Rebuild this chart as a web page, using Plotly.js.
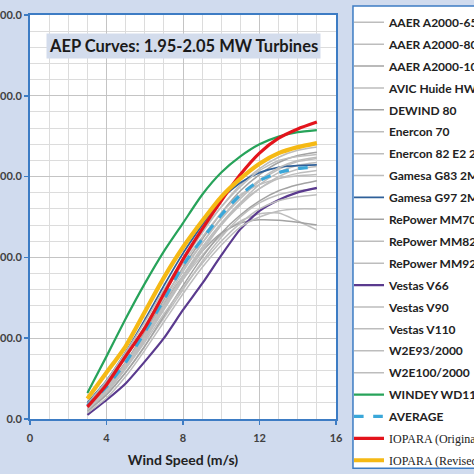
<!DOCTYPE html>
<html><head><meta charset="utf-8">
<script src="https://cdn.plot.ly/plotly-3.0.1.min.js"></script>
<style>html,body{margin:0;padding:0;background:#d0dbee;}#chart{width:474px;height:474px;}</style>
</head><body><div id="chart"></div>
<script>
const windSpeed = [3,4,5,6,7,8,9,10,11,12,13,14,15];
const turbineNames = ["AAER A2000-65","AAER A2000-80","AAER A2000-100","AVIC Huide HW","DEWIND 80","Enercon 70","Enercon 82 E2 2MW","Gamesa G83 2MW","Gamesa G97 2MW","RePower MM70","RePower MM82","RePower MM92","Vestas V66","Vestas V90","Vestas V110","W2E93/2000","W2E100/2000","WINDEY WD110","AVERAGE","IOPARA (Original)","IOPARA (Revised)"];
const aaer65   = [250,700,1300,2000,2750,3450,4050,4550,4900,5080,5100,4900,4680];
const aaer80   = [350,900,1550,2300,3100,3900,4600,5250,5800,6200,6480,6650,6730];
const aaer100  = [280,780,1400,2150,2950,3750,4450,5100,5650,6050,6350,6520,6600];
const avic     = [300,850,1500,2250,3000,3700,4350,4950,5450,5880,6180,6370,6450];
const dewind80 = [300,800,1400,2100,2850,3550,4150,4600,4850,4930,4920,4870,4800];
const enercon70= [180,600,1150,1800,2500,3200,3900,4500,5000,5350,5550,5650,5700];
const enercon82= [200,650,1250,1950,2700,3450,4150,4800,5350,5800,6100,6280,6350];
const gamesaG83= [260,750,1350,2050,2800,3550,4250,4850,5350,5700,5950,6080,6150];
const gamesaG97= [400,950,1650,2450,3300,4100,4800,5450,5850,6100,6230,6270,6290];
const repower70= [200,600,1150,1800,2550,3300,4000,4600,5050,5400,5650,5800,5900];
const repower82= [320,880,1550,2300,3100,3850,4500,5100,5550,5800,5950,6020,6050];
const repower92= [380,950,1650,2400,3200,3950,4650,5250,5750,6150,6400,6500,6550];
const vestasV66= [100,470,880,1420,2000,2700,3350,4050,4700,5150,5420,5610,5720];
const vestasV90= [150,520,1050,1700,2400,3100,3750,4300,4750,5000,5150,5200,5200];
const vestasV110=[220,700,1300,2000,2750,3500,4200,4800,5300,5700,6000,6180,6250];
const w2e93    = [240,680,1250,1900,2600,3250,3850,4400,4850,5200,5400,5500,5550];
const w2e100   = [270,760,1380,2100,2880,3650,4350,4980,5500,5920,6220,6400,6480];
const windey   = [643,1550,2480,3350,4150,4850,5550,6100,6500,6800,6990,7100,7150];
const average  = [330,800,1400,2150,2950,3800,4450,5050,5550,5900,6100,6200,6240];
const ioparaOrig=[300,850,1550,2250,3100,3950,4700,5400,6050,6580,6950,7180,7350];
const ioparaRev= [500,1150,1800,2650,3500,4250,4900,5500,5950,6320,6580,6730,6830];
const yTicks = [0,2000,4000,6000,8000,10000];
const xTicks = [0,4,8,12,16];

const series = [aaer65,aaer80,aaer100,avic,dewind80,enercon70,enercon82,gamesaG83,gamesaG97,repower70,repower82,repower92,vestasV66,vestasV90,vestasV110,w2e93,w2e100,windey,average,ioparaOrig,ioparaRev];
const grayA = "#bdbdbd", grayB = "#a3a3a3";
const styles = [
 {color:grayA,width:1.5},{color:grayA,width:1.5},{color:grayB,width:1.5},{color:grayA,width:1.5},
 {color:grayB,width:1.5},{color:grayA,width:1.5},{color:grayA,width:1.5},{color:grayA,width:1.5},
 {color:"#2f6099",width:1.8},{color:grayB,width:1.5},{color:grayA,width:1.5},{color:grayA,width:1.5},
 {color:"#5a3a8e",width:2.2},{color:grayA,width:1.5},{color:grayA,width:1.5},{color:grayA,width:1.5},
 {color:grayA,width:1.5},{color:"#27a35a",width:2.2},{color:"#3aa7d9",width:3.2,dash:"dash"},
 {color:"#e3141c",width:3.2},{color:"#f5b915",width:4.2}
];
const serifNames = new Set(["IOPARA (Original)","IOPARA (Revised)"]);
const traces = series.map((s,i)=>({
  type:"scatter", mode:"lines", x:windSpeed, y:s,
  name: serifNames.has(turbineNames[i]) ? '<span style="font-family:Liberation Serif;font-weight:normal">'+turbineNames[i]+'</span>' : turbineNames[i],
  legendgroup:"g"+i,
  line:Object.assign({shape:"spline",smoothing:0.6},styles[i])
}));

const layout = {
  width:474, height:474,
  paper_bgcolor:"#d0dbee", plot_bgcolor:"#ffffff",
  margin:{l:30,r:138,t:15,b:55,autoexpand:false},
  showlegend:true,
  legend:{x:1.0425,y:1.018,xanchor:"left",yanchor:"top",bgcolor:"rgba(0,0,0,0)",borderwidth:0,
    traceorder:"grouped",tracegroupgap:2.9,itemwidth:30,maxheight:474,
    font:{family:"Lato, Open Sans, sans-serif",size:12,color:"#222222",weight:"bold"}},
  font:{family:"Lato, Open Sans, sans-serif"},
  xaxis:{range:[0,16],tickvals:xTicks,ticktext:xTicks.map(String),showgrid:true,gridcolor:"#c4c4c4",gridwidth:1,
    minor:{dtick:1,showgrid:true,gridcolor:"#dcdcdc",gridwidth:1,ticks:""},
    zeroline:false,showline:true,linecolor:"#3d7cc4",linewidth:2,mirror:true,
    ticks:"outside",ticklen:4,tickcolor:"#3d7cc4",tickwidth:1.5,automargin:false,ticklabelstandoff:4,
    tickfont:{size:11,color:"#404040",weight:"bold"},
    title:{text:"Wind Speed (m/s)",font:{size:14,color:"#222222",weight:"bold"},standoff:12}},
  yaxis:{range:[0,10000],tickvals:yTicks,tickformat:".1f",showgrid:true,gridcolor:"#c4c4c4",gridwidth:1,
    minor:{dtick:400,showgrid:true,gridcolor:"#dcdcdc",gridwidth:1,ticks:""},
    zeroline:false,showline:true,linecolor:"#3d7cc4",linewidth:2,mirror:true,
    ticks:"outside",ticklen:4,tickcolor:"#3d7cc4",tickwidth:1.5,automargin:false,
    tickfont:{size:11,color:"#404040",weight:"bold"}},
  shapes:[{type:"rect",xref:"paper",yref:"paper",x0:1.0555,x1:1.6,y0:-0.122,y1:1.022,
    line:{color:"#3d7cc4",width:1.5},fillcolor:"#ffffff",layer:"below"}],
  annotations:[{text:"AEP Curves: 1.95-2.05 MW Turbines",xref:"paper",yref:"paper",x:0.5,y:0.923,
    xanchor:"center",yanchor:"middle",showarrow:false,bgcolor:"#d3dcec",borderpad:2,
    font:{family:"Lato, Open Sans, sans-serif",size:16.5,color:"#1a1a1a",weight:"bold"}}]
};
Plotly.newPlot("chart",traces,layout,{displayModeBar:false,staticPlot:true});
</script></body></html>
